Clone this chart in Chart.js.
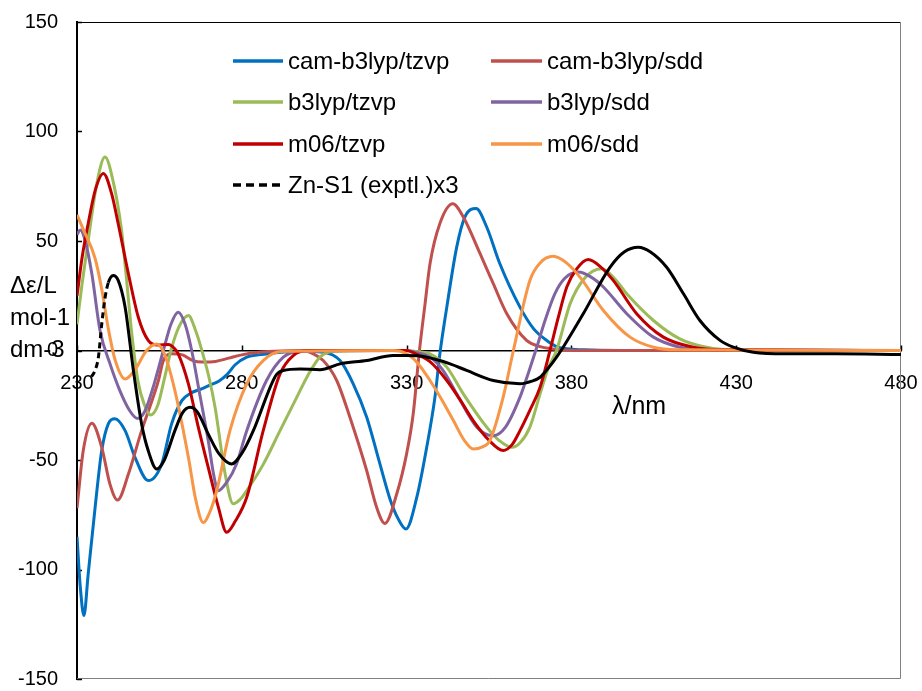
<!DOCTYPE html>
<html>
<head>
<meta charset="utf-8">
<script src="https://cdn.jsdelivr.net/npm/chart.js@4.4.1/dist/chart.umd.min.js"></script>
<style>
  html, body { margin: 0; padding: 0; background: #fff; }
  canvas { display: block; }
</style>
</head>
<body>
<canvas id="cd" width="922" height="691"></canvas>
<script>
// Series names and colours (legend order)
const seriesNames = ['cam-b3lyp/tzvp', 'cam-b3lyp/sdd', 'b3lyp/tzvp', 'b3lyp/sdd', 'm06/tzvp', 'm06/sdd', 'Zn-S1 (exptl.)x3'];
const seriesColors = ['#0070C0', '#C0504D', '#9BBB59', '#8064A2', '#C00000', '#F79646', '#000000'];

// Axis ticks
const xTicks = [230, 280, 330, 380, 430, 480];
const yTicks = [-150, -100, -50, 0, 50, 100, 150];

// cam-b3lyp/tzvp
const wlCamTzvp = [230, 231, 232.1, 233.4, 235.5, 237.5, 239.5, 241.5, 244.6, 247.6, 251.6, 255.7, 258.7, 261.8, 264.5, 267.8, 270, 273, 275.5, 278, 281.5, 285, 289.5, 296.7, 304.7, 309.8, 313.8, 317.9, 321.9, 325, 327.5, 329.8, 333.1, 336.1, 338.6, 340.1, 342.2, 345.2, 347.7, 351.1, 354.3, 358.3, 364.4, 368.5, 372.5, 376, 384, 395, 480];
const cdCamTzvp = [-85, -108, -121, -102, -71.6, -45.7, -33.5, -31.2, -36.6, -48.8, -59.4, -51.8, -33.5, -22.9, -19.5, -17.5, -16, -14, -11, -6.5, -3, -2, -1.2, -0.3, -0.8, -4.6, -15.2, -30.5, -51.8, -68, -77, -81.5, -67, -44.2, -21.3, -1.5, 19.8, 47.2, 61, 64.8, 56.4, 39.6, 19.8, 10, 4.6, 1.5, 0.3, 0, 0];

// cam-b3lyp/sdd
const wlCamSdd = [230, 231.9, 234.5, 237.5, 240, 242.3, 245.6, 249.6, 252.5, 254.7, 256.2, 258.5, 262, 265, 268, 272, 276, 280, 285, 290, 298, 301.7, 304.7, 308.8, 312.8, 317.9, 320.9, 323.4, 327, 330, 332, 333.9, 335.6, 337.1, 340.1, 344, 347.2, 352.3, 356.3, 360.4, 366.4, 370, 374.4, 382, 480];
const cdCamSdd = [-72, -45.7, -33.2, -44.2, -61, -68.3, -56.4, -36.6, -24, -13.7, -4.6, -1.5, -2, -4.5, -5.3, -5, -3.5, -2, -0.8, -0.3, 0, -1.5, -4.6, -13.7, -30.5, -54.9, -71.6, -79, -65.5, -47.2, -29, 0, 21.3, 39.6, 58, 67, 61, 44.2, 30.5, 16.8, 4.6, 2, 0.7, 0, 0];

// b3lyp/tzvp
const wlB3Tzvp = [230, 231.5, 233.4, 236, 238.5, 241, 243.5, 245, 246.6, 248.5, 250.5, 252.3, 254.5, 256.5, 258.5, 261, 263.8, 266, 267.5, 270, 271.9, 274.9, 277.4, 279.5, 281.5, 286.5, 291.6, 296.7, 300, 303.7, 308, 320, 330, 333, 337.1, 342.2, 347.2, 354.3, 358, 361.9, 364.5, 367.4, 370.5, 373, 375.5, 379.6, 384, 389.2, 393, 396.8, 404.9, 412.9, 421, 430, 480];
const cdB3Tzvp = [12, 30, 50.3, 76.2, 88.4, 77, 55, 33, 8, -14, -25, -29.5, -25, -13, 0, 11, 16, 9, 2, -12, -26, -56, -70, -68, -64, -52, -36.6, -21.3, -11.5, -3, -0.3, 0, 0, -0.5, -1.5, -7.6, -19.8, -35, -41, -44.2, -42, -35, -19.8, -8, 0, 21.3, 33, 37.3, 33, 25.9, 13.7, 5.3, 1.5, 0.2, 0];

// b3lyp/sdd
const wlB3Sdd = [230, 231, 232.5, 234.5, 237, 240, 243, 246, 248.3, 250.5, 253.1, 256.2, 258.5, 260.7, 262.8, 264.8, 267, 269.8, 271.5, 272.8, 275.5, 278.4, 281.5, 287.5, 292.6, 298, 330, 333, 337.1, 341, 345.2, 351.3, 356.3, 360, 364.4, 367, 369.5, 372, 375, 378, 382.1, 386, 389.7, 396.8, 404.9, 412.9, 420, 480];
const cdB3Sdd = [53, 55, 50, 35, 9, -6, -18.3, -27.5, -31, -28, -16.8, 0, 12, 17.5, 12, 0, -18, -41, -57, -64, -60, -51.8, -36.6, -13.7, -3, -0.3, 0, -1, -3, -9, -19.8, -35, -38.9, -35, -21.3, -10, 1.5, 13.7, 26, 33, 35.8, 33.5, 29, 16.8, 6.1, 1.5, 0.3, 0];

// m06/tzvp
const wlM06Tzvp = [230, 231.5, 233.4, 235.5, 238, 240.5, 242.5, 245.6, 248.6, 251.6, 254.5, 257.7, 259.5, 260.7, 263.8, 266.8, 269.8, 272.9, 275.4, 278, 281.5, 286.5, 291.6, 295.6, 300, 330, 332, 337, 342.2, 346, 350.2, 355, 359.3, 362, 364.4, 367.5, 370.5, 373.5, 376, 378.6, 381.5, 385.1, 389, 392.7, 399.8, 407.9, 417, 425, 480];
const cdM06Tzvp = [25, 42, 58, 73, 80.8, 71.6, 57.9, 35, 15.2, 4.6, 2.5, 2.7, 1, -1.5, -15.2, -35, -53.3, -71.6, -83, -78, -67, -36.6, -10.7, -2.3, 0, 0, -1, -5, -13.7, -22, -32, -41, -45.7, -43, -36.6, -27, -16.8, 0, 15, 29, 37, 41.5, 38, 32, 16.8, 6.1, 1.5, 0.3, 0];

// m06/sdd
const wlM06Sdd = [230, 232, 235.5, 237.5, 239.5, 241.5, 244.6, 247.5, 251.1, 254.2, 256.5, 259.7, 263.8, 266, 268.3, 270.5, 272.4, 276.4, 281.5, 286.5, 292, 326, 330, 333.5, 337.1, 340.5, 344.2, 347.5, 350.2, 353, 355.3, 359.3, 362.4, 367.4, 370.5, 374.5, 378.5, 382.6, 389.7, 397.8, 404.9, 412, 480];
const cdM06Sdd = [62, 55, 42, 28, 10, -4, -13, -9, 0, 3, -1.5, -18.3, -48.8, -68, -78.5, -73, -64, -36.6, -15.2, -4.6, -0.5, 0, -1.5, -6, -13.7, -22, -32, -41, -45, -44, -41, -21.3, 0, 32, 40, 43, 40, 33.5, 18.3, 6.1, 1.5, 0.3, 0];

// Zn-S1 experimental spectrum (x3)
const wlZnS1 = [234.4, 235.5, 236.5, 237.5, 238.5, 239.5, 241, 242.5, 244.6, 247.1, 249.6, 251.6, 254.2, 256.5, 259.7, 262, 264.3, 266.5, 269.8, 273, 276.9, 280, 283.5, 288.6, 290.5, 292.6, 297.7, 303.7, 309.8, 317.9, 325.9, 330, 334, 338.1, 343, 348.2, 356.3, 364.4, 368, 370.5, 373, 375.5, 377.5, 383.6, 391.7, 396, 400.3, 404, 408.9, 414, 419, 425.1, 429.1, 435.2, 445, 460, 480];
const cdZnS1 = [-12, -9, -3, 12, 24, 31, 34.3, 32, 19.8, -9, -33.5, -45.7, -54.1, -50, -36.6, -28.5, -25.9, -28, -38.1, -47, -51.8, -47, -36.6, -16.8, -11, -9.1, -8.4, -8.8, -6.1, -4.6, -2.3, -2.3, -2.5, -3.8, -6, -9.1, -13.7, -15.2, -14, -12.2, -8, -3, 1.5, 16.8, 38, 45, 47.2, 45, 38, 25.9, 13.7, 4.6, 1.5, -0.8, -1.5, -1.5, -1.8];

const wavelengths = [wlCamTzvp, wlCamSdd, wlB3Tzvp, wlB3Sdd, wlM06Tzvp, wlM06Sdd, wlZnS1];
const values = [cdCamTzvp, cdCamSdd, cdB3Tzvp, cdB3Sdd, cdM06Tzvp, cdM06Sdd, cdZnS1];

const FONT = '"Liberation Sans", Arial, sans-serif';
const EXPT = seriesNames.length - 1;

const datasets = seriesNames.map((name, i) => ({
  label: name,
  data: wavelengths[i].map((w, k) => ({ x: w, y: values[i][k] })),
  borderColor: seriesColors[i],
  backgroundColor: seriesColors[i],
  borderWidth: 3,
  pointRadius: 0,
  fill: false,
  cubicInterpolationMode: 'monotone',
  order: seriesNames.length - i,
  segment: i === EXPT ? { borderDash: c => (c.p0.parsed.x < 239 ? [6, 4] : []) } : undefined
}));

// Frame, inward tick marks, axis captions and the two-column legend
const decorations = {
  id: 'decorations',
  beforeDatasetsDraw(chart) {
    const { ctx, chartArea: a, scales: { x, y } } = chart;
    ctx.save();
    ctx.lineWidth = 1;
    ctx.strokeStyle = '#000';
    ctx.beginPath();
    ctx.moveTo(a.left, a.top + 0.5); ctx.lineTo(a.right, a.top + 0.5);
    ctx.stroke();
    ctx.strokeStyle = '#808080';
    ctx.beginPath();
    ctx.moveTo(a.left, a.bottom - 0.5); ctx.lineTo(a.right - 0.5, a.bottom - 0.5);
    ctx.lineTo(a.right - 0.5, a.top);
    ctx.stroke();
    // inward tick marks
    ctx.strokeStyle = '#000';
    ctx.lineWidth = 1.5;
    yTicks.forEach(v => {
      const py = Math.round(y.getPixelForValue(v)) + 0.5;
      ctx.beginPath(); ctx.moveTo(a.left, py); ctx.lineTo(a.left + 5, py); ctx.stroke();
    });
    const y0 = y.getPixelForValue(0);
    xTicks.forEach(v => {
      const px = Math.round(x.getPixelForValue(v)) + 0.5;
      ctx.beginPath(); ctx.moveTo(px, y0); ctx.lineTo(px, y0 - 5); ctx.stroke();
    });
    ctx.restore();
  },
  afterDraw(chart) {
    const { ctx } = chart;
    ctx.save();
    ctx.fillStyle = '#000';
    ctx.textAlign = 'left';
    ctx.textBaseline = 'alphabetic';
    ctx.font = '24px ' + FONT;
    ctx.fillText('\u0394\u03b5/L', 10, 293);
    ctx.fillText('mol-1', 10, 325);
    ctx.fillText('dm-3', 10, 357);
    ctx.font = '25px ' + FONT;
    ctx.fillText('\u03bb/nm', 612, 414);

    // legend
    ctx.font = '24px ' + FONT;
    ctx.textBaseline = 'middle';
    const rows = [61, 102, 144, 185];
    const cols = [{ l: 233, r: 283, t: 288 }, { l: 491, r: 542, t: 547 }];
    chart.data.datasets.forEach((ds, i) => {
      const row = Math.floor(i / 2), col = cols[i % 2];
      const yy = rows[row];
      ctx.strokeStyle = ds.borderColor;
      ctx.lineWidth = 3.5;
      ctx.setLineDash(i === EXPT ? [8, 5] : []);
      ctx.beginPath(); ctx.moveTo(col.l, yy); ctx.lineTo(col.r, yy); ctx.stroke();
      ctx.fillText(ds.label, col.t, yy + 1);
    });
    ctx.restore();
  }
};

new Chart(document.getElementById('cd'), {
  type: 'line',
  data: { datasets },
  plugins: [decorations],
  options: {
    responsive: false,
    animation: false,
    devicePixelRatio: 1,
    layout: { padding: { left: 0, right: 21, top: 22, bottom: 12 } },
    plugins: { legend: { display: false }, tooltip: { enabled: false } },
    elements: { line: { tension: 0 } },
    scales: {
      x: {
        type: 'linear',
        min: 230, max: 480,
        position: { y: 0 },
        afterBuildTicks: s => { s.ticks = xTicks.map(v => ({ value: v })); },
        afterFit: s => { s.height = 0; s.paddingLeft = 0; s.paddingRight = 0; s.paddingTop = 0; s.paddingBottom = 0; },
        ticks: { color: '#000', font: { family: FONT, size: 20 }, padding: 21, maxRotation: 0, autoSkip: false },
        grid: { display: false, drawTicks: false },
        border: { display: true, color: '#000', width: 1.5 }
      },
      y: {
        type: 'linear',
        min: -150, max: 150,
        position: 'left',
        afterFit: s => { s.width = 77; s.paddingTop = 0; s.paddingBottom = 0; },
        afterBuildTicks: s => { s.ticks = yTicks.map(v => ({ value: v })); },
        ticks: { color: '#000', font: { family: FONT, size: 20 }, padding: 19 },
        grid: { display: false, drawTicks: false },
        border: { display: true, color: '#000', width: 2 }
      }
    }
  }
});
</script>
</body>
</html>
